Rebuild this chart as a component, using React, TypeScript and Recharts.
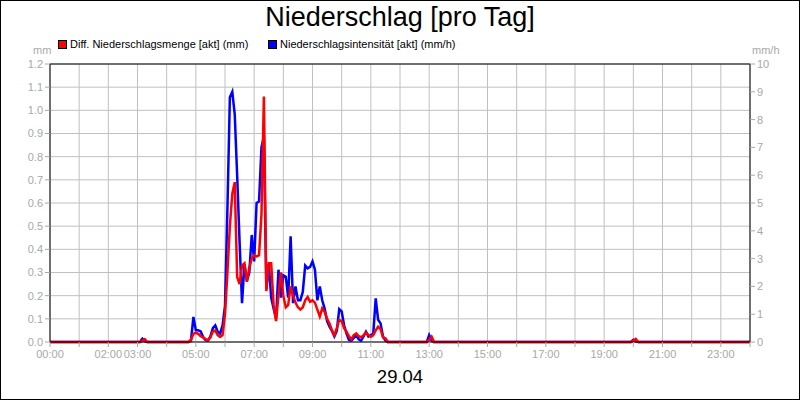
import React from 'react'
import {
  CartesianGrid,
  Line,
  LineChart,
  ReferenceLine,
  XAxis,
  YAxis,
} from 'recharts'

// measurement times (5 min steps while it rains, zeros in between)
const times = [
  '00:00', '03:05', '03:10', '03:15', '03:20',
  '04:45', '04:50', '04:55',
  '05:00', '05:05', '05:10', '05:15', '05:20', '05:25', '05:30', '05:35', '05:40', '05:45', '05:50', '05:55',
  '06:00', '06:05', '06:10', '06:15', '06:20', '06:25', '06:30', '06:35', '06:40', '06:45', '06:50', '06:55',
  '07:00', '07:05', '07:10', '07:15', '07:20', '07:25', '07:30', '07:35', '07:40', '07:45', '07:50', '07:55',
  '08:00', '08:05', '08:10', '08:15', '08:20', '08:25', '08:30', '08:35', '08:40', '08:45', '08:50', '08:55',
  '09:00', '09:05', '09:10', '09:15', '09:20', '09:25', '09:30', '09:35', '09:40', '09:45', '09:50', '09:55',
  '10:00', '10:05', '10:10', '10:15', '10:20', '10:25', '10:30', '10:35', '10:40', '10:45', '10:50', '10:55',
  '11:00', '11:05', '11:10', '11:15', '11:20', '11:25', '11:30', '11:35',
  '12:55', '13:00', '13:05', '13:10',
  '19:55', '20:00', '20:05', '20:10',
  '24:00',
]

// Diff. Niederschlagsmenge [akt] (mm)
const menge = [
  0, 0, 0.005, 0.012, 0,
  0, 0.01, 0.035,
  0.04, 0.035, 0.025, 0.02, 0.012, 0.008, 0.02, 0.045, 0.05, 0.03, 0.022, 0.03,
  0.12, 0.3, 0.5, 0.64, 0.69, 0.28, 0.25, 0.33, 0.34, 0.26, 0.32, 0.36,
  0.375, 0.37, 0.375, 0.55, 1.06, 0.22, 0.34, 0.34, 0.16, 0.09, 0.2, 0.3,
  0.2, 0.15, 0.16, 0.24, 0.2, 0.17, 0.15, 0.14, 0.15, 0.18, 0.195, 0.174,
  0.18, 0.17, 0.14, 0.11, 0.145, 0.13, 0.1, 0.08, 0.05, 0.03, 0.06, 0.095,
  0.09, 0.06, 0.045, 0.025, 0.012, 0.03, 0.037, 0.025, 0.02, 0.03, 0.04, 0.03,
  0.023, 0.03, 0.05, 0.066, 0.055, 0.02, 0.016, 0,
  0, 0.01, 0.023, 0,
  0, 0.005, 0.013, 0,
  0,
]

// Niederschlagsintensität [akt] (mm/h)
const intensitaet = [
  0, 0, 0.12, 0.03, 0,
  0, 0.05, 0.9,
  0.42, 0.42, 0.38, 0.18, 0.07, 0.05, 0.2, 0.5, 0.6, 0.37, 0.3, 0.6,
  1.3, 4.8, 8.8, 9.0, 8.2, 6.0, 3.6, 1.4, 2.8, 2.2, 2.5, 3.85,
  2.9, 5.0, 5.05, 7.0, 7.4, 1.9, 2.8, 1.6, 1.2, 0.85, 2.6, 1.6,
  2.4, 2.35, 1.6, 3.8, 1.4, 2.0, 1.5, 1.5, 1.8, 2.75, 2.65, 2.7,
  2.9, 2.6, 1.5, 2.0, 1.5, 1.2, 0.75, 0.55, 0.4, 0.2, 0.4, 1.18,
  1.1, 0.6, 0.3, 0.07, 0.05, 0.15, 0.25, 0.1, 0.05, 0.2, 0.37, 0.2,
  0.25, 0.3, 1.57, 0.8, 0.67, 0.2, 0.05, 0,
  0, 0.25, 0.05, 0,
  0, 0.08, 0.02, 0,
  0,
]

const hourTicks = [
  '00:00', '01:00', '02:00', '03:00', '04:00', '05:00', '06:00', '07:00', '08:00',
  '09:00', '10:00', '11:00', '12:00', '13:00', '14:00', '15:00', '16:00', '17:00',
  '18:00', '19:00', '20:00', '21:00', '22:00', '23:00', '24:00',
]
const labelledHours = [
  '00:00', '02:00', '03:00', '05:00', '07:00', '09:00', '11:00',
  '13:00', '15:00', '17:00', '19:00', '21:00', '23:00',
]
const mmTicks = [0, 0.1, 0.2, 0.3, 0.4, 0.5, 0.6, 0.7, 0.8, 0.9, 1.0, 1.1, 1.2]
const mmhTicks = [0, 1, 2, 3, 4, 5, 6, 7, 8, 9, 10]

const toMinutes = (s: string) => {
  const [h, m] = s.split(':').map(Number)
  return h * 60 + m
}
const toLabel = (min: number) => {
  const h = String(Math.floor(min / 60)).padStart(2, '0')
  const m = String(min % 60).padStart(2, '0')
  return `${h}:${m}`
}

const rows = times.map((t, i) => ({
  t: toMinutes(t),
  menge: menge[i],
  intensitaet: intensitaet[i],
}))

const FONT = '"Liberation Sans", Arial, Helvetica, sans-serif'
const GREY = '#a8a8a8'
const tickStyle = { fontSize: 11, fill: GREY, fontFamily: FONT }

function LegendItem(props: { color: string; text: string; left: number }) {
  return (
    <div style={{ position: 'absolute', left: props.left, top: 38, height: 12, lineHeight: '12px', fontSize: 11, whiteSpace: 'nowrap' }}>
      <span style={{ position: 'absolute', left: 0, top: 2, width: 7, height: 7, background: props.color, border: '1px solid #000' }} />
      <span style={{ position: 'absolute', left: 12 }}>{props.text}</span>
    </div>
  )
}

export default function App(): React.ReactElement {
  return (
    <div style={{ position: 'absolute', left: 0, top: 0, width: 800, height: 400, background: '#fff', fontFamily: FONT, overflow: 'hidden' }}>
      <LineChart width={800} height={400} data={rows} margin={{ top: 64, right: 0, bottom: 38, left: 0 }}>
        <CartesianGrid yAxisId="mm" stroke="#c0c0c0" strokeWidth={1} />
        <XAxis
          dataKey="t"
          type="number"
          domain={[0, 1440]}
          ticks={hourTicks.map(toMinutes)}
          interval={0}
          height={20}
          tickSize={5}
          tickMargin={3}
          tick={tickStyle}
          tickLine={{ stroke: GREY }}
          axisLine={{ stroke: '#000' }}
          tickFormatter={(v: number) => (labelledHours.includes(toLabel(v)) ? toLabel(v) : '')}
        />
        <YAxis
          yAxisId="mm"
          domain={[0, 1.2]}
          ticks={mmTicks}
          interval={0}
          width={50}
          tickSize={5}
          tickMargin={2}
          tick={tickStyle}
          tickLine={{ stroke: GREY }}
          axisLine={{ stroke: '#000' }}
          tickFormatter={(v: number) => v.toFixed(1)}
        />
        <YAxis
          yAxisId="mmh"
          orientation="right"
          domain={[0, 10]}
          ticks={mmhTicks}
          interval={0}
          width={50}
          tickSize={5}
          tickMargin={2}
          tick={tickStyle}
          tickLine={{ stroke: GREY }}
          axisLine={{ stroke: '#000' }}
        />
        <ReferenceLine yAxisId="mm" y={1.2} stroke="#000" />
        <Line
          yAxisId="mmh"
          dataKey="intensitaet"
          type="linear"
          stroke="#0000ff"
          strokeWidth={2.5}
          dot={false}
          isAnimationActive={false}
        />
        <Line
          yAxisId="mm"
          dataKey="menge"
          type="linear"
          stroke="#ff0000"
          strokeWidth={2.5}
          dot={false}
          isAnimationActive={false}
        />
      </LineChart>

      <div style={{ position: 'absolute', left: 0, top: 2, width: 800, textAlign: 'center', fontSize: 27, lineHeight: '30px', color: '#000' }}>
        Niederschlag [pro Tag]
      </div>
      <LegendItem color="#ff0000" text="Diff. Niederschlagsmenge [akt] (mm)" left={58} />
      <LegendItem color="#0000ff" text="Niederschlagsintensität [akt] (mm/h)" left={268} />
      <div style={{ position: 'absolute', left: 33, top: 44, fontSize: 11, lineHeight: '12px', color: GREY }}>mm</div>
      <div style={{ position: 'absolute', left: 752, top: 44, fontSize: 11, lineHeight: '12px', color: GREY }}>mm/h</div>
      <div style={{ position: 'absolute', left: 0, top: 366, width: 800, textAlign: 'center', fontSize: 18.5, lineHeight: '22px', color: '#000' }}>
        29.04
      </div>
      <div style={{ position: 'absolute', left: 0, top: 0, width: 800, height: 400, boxSizing: 'border-box', border: '1px solid #000', pointerEvents: 'none' }} />
    </div>
  )
}
